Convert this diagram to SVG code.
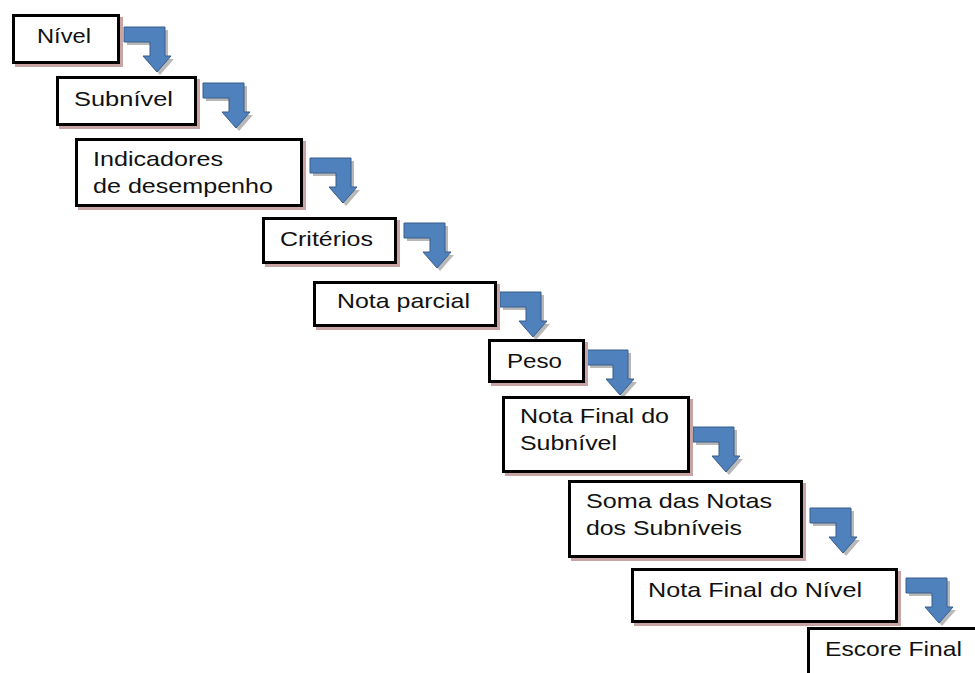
<svg xmlns="http://www.w3.org/2000/svg" xmlns:xlink="http://www.w3.org/1999/xlink" width="975" height="673" viewBox="0 0 975 673">
<style>
.box{fill:#fff;stroke:#000;stroke-width:3}
.sh{fill:#c8a4a4;stroke:#c8a4a4;stroke-width:3}
.t{font-family:"Liberation Sans",Arial,sans-serif;font-size:21px;fill:#111}
.ar{fill:#4f81bd;stroke:#385d8a;stroke-width:1}
.as{fill:#9a9a9a;opacity:0.7}
</style>
<defs>
<path id="arr" d="M0,0 H41 V29 H47 L33,45 L19,29 H26 V15 H0 Z"/>
</defs>
<rect width="975" height="673" fill="#fff"/>
<g id="connectors">
<g transform="translate(124,27)"><use href="#arr" class="as" x="3" y="3"/><use href="#arr" class="ar"/></g>
<g transform="translate(203,83)"><use href="#arr" class="as" x="3" y="3"/><use href="#arr" class="ar"/></g>
<g transform="translate(310,158)"><use href="#arr" class="as" x="3" y="3"/><use href="#arr" class="ar"/></g>
<g transform="translate(404,223)"><use href="#arr" class="as" x="3" y="3"/><use href="#arr" class="ar"/></g>
<g transform="translate(500,292)"><use href="#arr" class="as" x="3" y="3"/><use href="#arr" class="ar"/></g>
<g transform="translate(587,350)"><use href="#arr" class="as" x="3" y="3"/><use href="#arr" class="ar"/></g>
<g transform="translate(693,427)"><use href="#arr" class="as" x="3" y="3"/><use href="#arr" class="ar"/></g>
<g transform="translate(810,508)"><use href="#arr" class="as" x="3" y="3"/><use href="#arr" class="ar"/></g>
<g transform="translate(906,578)"><use href="#arr" class="as" x="3" y="3"/><use href="#arr" class="ar"/></g>
</g>
<g id="n1">
<rect class="sh" x="16.5" y="18.5" width="105" height="47"/>
<rect class="box" x="13.5" y="15.5" width="105" height="47"/>
<text class="t" x="37" y="43" textLength="54" lengthAdjust="spacingAndGlyphs">Nível</text>
</g>
<g id="n2">
<rect class="sh" x="60.5" y="80.5" width="138" height="47"/>
<rect class="box" x="57.5" y="77.5" width="138" height="47"/>
<text class="t" x="74" y="106" textLength="99" lengthAdjust="spacingAndGlyphs">Subnível</text>
</g>
<g id="n3">
<rect class="sh" x="79.5" y="142.5" width="225" height="66"/>
<rect class="box" x="76.5" y="139.5" width="225" height="66"/>
<text class="t" x="93" y="166" textLength="130" lengthAdjust="spacingAndGlyphs">Indicadores</text>
<text class="t" x="93" y="193" textLength="180" lengthAdjust="spacingAndGlyphs">de desempenho</text>
</g>
<g id="n4">
<rect class="sh" x="266.5" y="221.5" width="132" height="44"/>
<rect class="box" x="263.5" y="218.5" width="132" height="44"/>
<text class="t" x="280" y="246" textLength="93" lengthAdjust="spacingAndGlyphs">Critérios</text>
</g>
<g id="n5">
<rect class="sh" x="317.5" y="285.5" width="181" height="43"/>
<rect class="box" x="314.5" y="282.5" width="181" height="43"/>
<text class="t" x="337" y="308" textLength="133" lengthAdjust="spacingAndGlyphs">Nota parcial</text>
</g>
<g id="n6">
<rect class="sh" x="492.5" y="343.5" width="94" height="41"/>
<rect class="box" x="489.5" y="340.5" width="94" height="41"/>
<text class="t" x="507" y="368" textLength="55" lengthAdjust="spacingAndGlyphs">Peso</text>
</g>
<g id="n7">
<rect class="sh" x="506.5" y="400.5" width="185" height="74"/>
<rect class="box" x="503.5" y="397.5" width="185" height="74"/>
<text class="t" x="520" y="423" textLength="149" lengthAdjust="spacingAndGlyphs">Nota Final do</text>
<text class="t" x="520" y="450" textLength="97" lengthAdjust="spacingAndGlyphs">Subnível</text>
</g>
<g id="n8">
<rect class="sh" x="572.5" y="484.5" width="232" height="75"/>
<rect class="box" x="569.5" y="481.5" width="232" height="75"/>
<text class="t" x="586" y="508" textLength="186" lengthAdjust="spacingAndGlyphs">Soma das Notas</text>
<text class="t" x="586" y="535" textLength="156" lengthAdjust="spacingAndGlyphs">dos Subníveis</text>
</g>
<g id="n9">
<rect class="sh" x="635.5" y="572.5" width="264" height="52"/>
<rect class="box" x="632.5" y="569.5" width="264" height="52"/>
<text class="t" x="648" y="597" textLength="214" lengthAdjust="spacingAndGlyphs">Nota Final do Nível</text>
</g>
<g id="n10">
<rect class="box" x="808.5" y="628.5" width="200" height="60"/>
<text class="t" x="825" y="656" textLength="137" lengthAdjust="spacingAndGlyphs">Escore Final</text>
</g>
</svg>
